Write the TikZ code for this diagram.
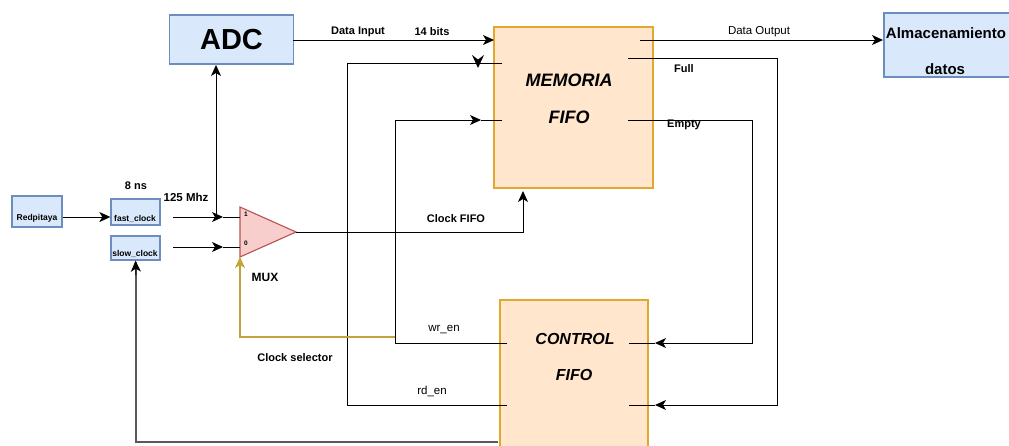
\documentclass[tikz,border=0pt]{standalone}
\usepackage{fontspec}
\setmainfont{Liberation Sans}
\usetikzlibrary{arrows.meta}
\definecolor{bfill}{HTML}{DAE8FC}
\definecolor{bline}{HTML}{6C8EBF}
\definecolor{ofill}{HTML}{FFE6CC}
\definecolor{oline}{HTML}{E0A82E}
\definecolor{rfill}{HTML}{F8CECC}
\definecolor{rline}{HTML}{B85450}
\definecolor{sel}{HTML}{C2A43A}
\definecolor{dgray}{HTML}{595959}
\begin{document}
\begin{tikzpicture}[x=1pt,y=-1pt,
  bluebox/.style={draw=bline,fill=bfill,line width=1.3pt,minimum width=#1,inner sep=0pt},
  orbox/.style={draw=oline,fill=ofill,line width=1.3pt,inner sep=0pt},
  arr/.style={line width=1pt,-{Stealth[length=11pt,width=10pt,inset=3pt]}},
  wire/.style={line width=1pt},
  lab/.style={font=\fontsize{11}{13}\selectfont\bfseries,inner sep=0pt},
  labr/.style={font=\fontsize{11.5}{13}\selectfont,inner sep=0pt},
  big/.style={font=\fontsize{18}{20}\selectfont\bfseries\itshape,inner sep=0pt},
  tiny/.style={font=\fontsize{8.5}{10}\selectfont\bfseries,inner sep=0pt}]
\useasboundingbox (0,0) rectangle (1009,445);

% boxes
\node[bluebox=124pt,minimum height=49pt] (adc) at (231.5,39.5) {};
\node[font=\fontsize{29}{31}\selectfont\bfseries,inner sep=0pt] (adct) at (231.5,40) {ADC};
\node[orbox,minimum width=159pt,minimum height=161pt] (mem) at (573.5,107.5) {};
\node[big] (memt1) at (569,80) {MEMORIA};
\node[big] (memt2) at (569,117) {FIFO};
\node[orbox,minimum width=148pt,minimum height=160pt] (ctl) at (574,380) {};
\node[big,font=\fontsize{16}{18}\selectfont\bfseries\itshape] (ctlt1) at (575,339) {CONTROL};
\node[big,font=\fontsize{16}{18}\selectfont\bfseries\itshape] (ctlt2) at (574,375) {FIFO};
\node[bluebox=128pt,minimum height=64pt] (alm) at (948,45) {};
\node[font=\fontsize{15}{17}\selectfont\bfseries,inner sep=0pt] (almt1) at (946,33) {Almacenamiento};
\node[font=\fontsize{15}{17}\selectfont\bfseries,inner sep=0pt] (almt2) at (945,69) {datos};
\node[bluebox=50pt,minimum height=31pt] (red) at (37,211.5) {};
\node[tiny] (redt) at (37,218) {Redpitaya};
\node[bluebox=49pt,minimum height=26pt] (fast) at (135.5,212) {};
\node[tiny] (fastt) at (135,219) {fast\_clock};
\node[bluebox=49pt,minimum height=24pt] (slow) at (135.5,248) {};
\node[tiny] (slowt) at (135,254) {slow\_clock};

% MUX
\coordinate (muxA) at (240,207);
\coordinate (muxB) at (240,257);
\coordinate (muxO) at (296,232);
\draw[draw=rline,fill=rfill,line width=1.1pt] (muxA) -- (muxO) -- (muxB) -- cycle;
\node[font=\fontsize{6.5}{7}\selectfont\bfseries,inner sep=0pt] (m1) at (246,214) {1};
\node[font=\fontsize{6.5}{7}\selectfont\bfseries,inner sep=0pt] (m0) at (246,243) {0};

% ports
\coordinate (adcOut) at (293,40);
\coordinate (memIn) at (494,40);
\coordinate (memOut) at (640,40);
\coordinate (almIn) at (883,40);
\coordinate (memFull) at (628,58);
\coordinate (memEmpty) at (628,120);
\coordinate (memRd) at (502,63);
\coordinate (memWr) at (502,120);
\coordinate (memClk) at (523,191);
\coordinate (ctlWr) at (507,343);
\coordinate (ctlRd) at (507,405);
\coordinate (ctlE) at (629,343);
\coordinate (ctlF) at (629,405);
\coordinate (ctlE2) at (655,343);
\coordinate (ctlF2) at (655,405);
\coordinate (ctlSlow) at (498,442);
\coordinate (fastOut) at (173,217);
\coordinate (slowOut) at (173,247);
\coordinate (j1) at (223,217);
\coordinate (j0) at (223,247);
\coordinate (muxIn1) at (240,217);
\coordinate (muxIn0) at (240,247);
\coordinate (adcIn) at (216,65);
\coordinate (wrTip) at (481,120);

% connectors
\draw[arr] (adcOut) -- (memIn);
\node[lab] at (358,32) {Data Input};
\node[lab] at (432,32) {14 bits};
\draw[arr] (memOut) -- (almIn);
\node[labr] at (759,32) {Data Output};
\draw[arr] (memFull) -| (777,405) -- (ctlF2);
\draw[wire] (ctlF2) -- (ctlF);
\node[lab] at (684,69) {Full};
\draw[arr] (memEmpty) -| (752,343) -- (ctlE2);
\draw[wire] (ctlE2) -- (ctlE);
\node[lab] at (684,125) {Empty};
\draw[arr] (ctlWr) -| (395,120) -- (wrTip);
\draw[wire] (wrTip) -- (memWr);
\node[labr] at (444,330) {wr\_en};
\draw[wire] (ctlRd) -| (347,63) -- (memRd);
\fill (478,68) -- (472,55) -- (478,59.5) -- (484,55) -- cycle;
\node[labr] at (432,391) {rd\_en};
\draw[arr,draw=sel,line width=1.4pt] (395,337) -| (muxB);
\node[lab] at (295,358) {Clock selector};
\draw[arr] (muxO) -| (memClk);
\node[lab] at (456,219) {Clock FIFO};
\node[lab,font=\fontsize{12}{14}\selectfont\bfseries] at (265,277) {MUX};
\draw[arr] (red.east |- fastOut) -- (fast.west |- fastOut);
\draw[arr] (fastOut) -- (j1);
\draw[wire] (j1) -- (muxIn1);
\draw[arr] (216,217) -- (adcIn);
\draw[arr] (slowOut) -- (j0);
\draw[wire] (j0) -- (muxIn0);
\draw[draw=dgray,line width=1.8pt] (ctlSlow) -| (136,262);
\draw[arr] (136,275) -- (slow.south);
\node[lab] at (136,186) {8 ns};
\node[lab,font=\fontsize{11.5}{13}\selectfont\bfseries] at (186,197) {125 Mhz};
\end{tikzpicture}
\end{document}
